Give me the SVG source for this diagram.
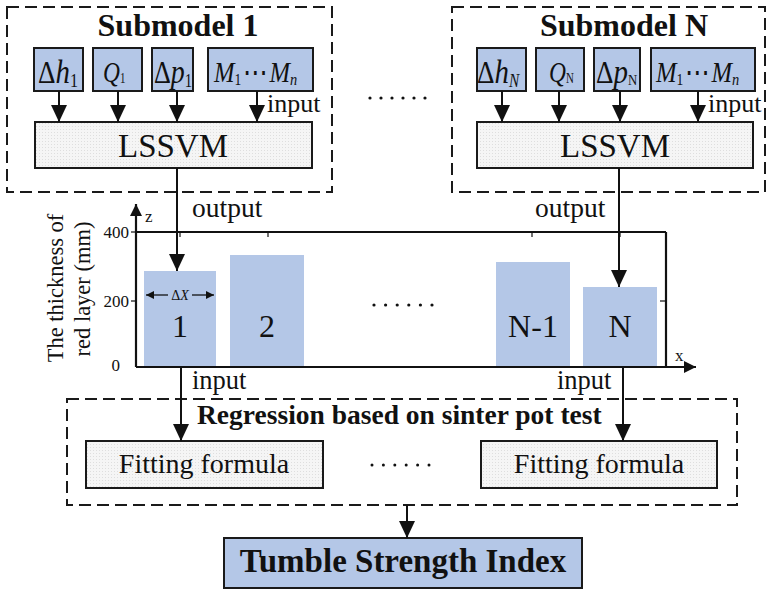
<svg xmlns="http://www.w3.org/2000/svg" width="770" height="589" viewBox="0 0 770 589">
<style>
text{font-family:"Liberation Serif","Times New Roman",serif;fill:#111}
.b{font-weight:bold}
.i{font-style:italic}
.dash{fill:none;stroke:#1a1a1a;stroke-width:2;stroke-dasharray:12 6}
.blue{fill:#b4c7e7;stroke:#1a1a1a;stroke-width:2}
.gray{fill:url(#dots);stroke:#1a1a1a;stroke-width:2}
.bar{fill:#b4c7e7}
.ln{stroke:#111;stroke-width:2;fill:none}
.ax{stroke:#111;stroke-width:2.2;fill:none}
.tk{stroke:#111;stroke-width:1.2}
.dot{fill:#111}
</style>
<defs>
<pattern id="dots" width="3" height="3" patternUnits="userSpaceOnUse"><rect width="3" height="3" fill="#f5f5f5"/><rect width="1" height="1" fill="#dedede"/></pattern>
<marker id="ah" viewBox="0 0 17 16" refX="17" refY="8" markerWidth="17" markerHeight="16" orient="auto" markerUnits="userSpaceOnUse"><path d="M0,0 L17,8 L0,16 Z" fill="#111"/></marker>
<marker id="axh" viewBox="0 0 12 12" refX="12" refY="6" markerWidth="12" markerHeight="12" orient="auto" markerUnits="userSpaceOnUse"><path d="M0,0 L12,6 L0,12 Z" fill="#111"/></marker>
<marker id="sh" viewBox="0 0 8 8" refX="8" refY="4" markerWidth="8" markerHeight="8" orient="auto" markerUnits="userSpaceOnUse"><path d="M0,0 L8,4 L0,8 Z" fill="#111"/></marker>
</defs>

<g id="submodel1">
<rect class="dash" x="7" y="7" width="325" height="185"/>
<text class="b" x="178" y="36" font-size="32" text-anchor="middle">Submodel 1</text>
</g>
<g id="dh1"><rect class="blue" x="34" y="48" width="49" height="43"/>
<text transform="translate(38,83) scale(0.85,1)" font-size="32">Δ<tspan class="i" font-size="34">h</tspan><tspan font-size="19" dy="4">1</tspan></text></g>
<g id="q1"><rect class="blue" x="93" y="48" width="49" height="43"/>
<text transform="translate(103,82) scale(0.78,1)" font-size="30" class="i">Q<tspan font-size="14" font-style="normal" dy="1">1</tspan></text></g>
<g id="dp1"><rect class="blue" x="152" y="48" width="41" height="43"/>
<text transform="translate(154,83) scale(0.82,1)" font-size="32">Δ<tspan class="i" font-size="34">p</tspan><tspan font-size="18" dy="4">1</tspan></text></g>
<g id="m1"><rect class="blue" x="208" y="48" width="105" height="43"/>
<text transform="translate(214,82) scale(0.85,1)" font-size="29" class="i">M<tspan font-size="16" font-style="normal" dy="3">1</tspan><tspan font-style="normal" dy="-3" dx="2">⋯</tspan><tspan dx="2">M</tspan><tspan font-size="17" dy="3">n</tspan></text></g>
<g id="lssvm1"><rect class="gray" x="35" y="122" width="277" height="46"/>
<text x="173" y="157" font-size="33" text-anchor="middle">LSSVM</text></g>

<g id="top-ellipsis">
<circle class="dot" cx="370" cy="98" r="1.6"/><circle class="dot" cx="381" cy="98" r="1.6"/><circle class="dot" cx="392" cy="98" r="1.6"/><circle class="dot" cx="403" cy="98" r="1.6"/><circle class="dot" cx="414" cy="98" r="1.6"/><circle class="dot" cx="425" cy="98" r="1.6"/>
</g>

<g id="submodelN">
<rect class="dash" x="452" y="7" width="313" height="185"/>
<text class="b" x="624" y="36" font-size="32" text-anchor="middle">Submodel N</text>
</g>
<g id="dhN"><rect class="blue" x="477" y="48" width="49" height="43"/>
<text transform="translate(477,83) scale(0.85,1)" font-size="32">Δ<tspan class="i" font-size="34">h</tspan><tspan class="i" font-size="18" dy="4">N</tspan></text></g>
<g id="qN"><rect class="blue" x="536" y="48" width="48" height="43"/>
<text transform="translate(549,82) scale(0.78,1)" font-size="30" class="i">Q<tspan font-size="14" font-style="normal" dy="1">N</tspan></text></g>
<g id="dpN"><rect class="blue" x="594" y="48" width="46" height="43"/>
<text transform="translate(596,83) scale(0.85,1)" font-size="32">Δ<tspan class="i" font-size="34">p</tspan><tspan font-size="15" dy="2">N</tspan></text></g>
<g id="mN"><rect class="blue" x="651" y="48" width="104" height="43"/>
<text transform="translate(656,82) scale(0.85,1)" font-size="29" class="i">M<tspan font-size="16" font-style="normal" dy="3">1</tspan><tspan font-style="normal" dy="-3" dx="2">⋯</tspan><tspan dx="2">M</tspan><tspan font-size="17" dy="3">n</tspan></text></g>
<g id="lssvmN"><rect class="gray" x="477" y="122" width="276" height="46"/>
<text x="615" y="157" font-size="33" text-anchor="middle">LSSVM</text></g>

<g id="chart">
<line class="ax" x1="136" y1="367" x2="136" y2="204" marker-end="url(#axh)"/>
<line class="ax" x1="136" y1="367" x2="696" y2="367" marker-end="url(#axh)"/>
<line class="ax" x1="136" y1="232" x2="666" y2="232"/>
<line class="ax" x1="666" y1="232" x2="666" y2="367"/>
<line class="tk" x1="180" y1="232" x2="180" y2="237"/>
<line class="tk" x1="268" y1="232" x2="268" y2="237"/>
<line class="tk" x1="532" y1="232" x2="532" y2="237"/>
<line class="tk" x1="620" y1="232" x2="620" y2="237"/>
<line class="tk" x1="660" y1="301" x2="666" y2="301"/>
<line class="tk" x1="131" y1="232" x2="136" y2="232"/>
<line class="tk" x1="131" y1="301" x2="136" y2="301"/>
<text x="129" y="238" font-size="17" text-anchor="end">400</text>
<text x="129" y="307" font-size="17" text-anchor="end">200</text>
<text x="120" y="371" font-size="17" text-anchor="end">0</text>
<text x="145" y="222" font-size="17">z</text>
<text x="675" y="361" font-size="17">x</text>
<text transform="translate(63,288) rotate(-90)" font-size="22.5" text-anchor="middle">The thickness of</text>
<text transform="translate(90,289) rotate(-90)" font-size="22.5" text-anchor="middle">red layer (mm)</text>
</g>
<g id="bar1"><rect class="bar" x="144" y="271" width="72" height="95"/>
<text x="180" y="337" font-size="32" text-anchor="middle">1</text>
<line class="tk" x1="168" y1="295" x2="146" y2="295" marker-end="url(#sh)" style="stroke-width:1.3"/>
<line class="tk" x1="192" y1="295" x2="214" y2="295" marker-end="url(#sh)" style="stroke-width:1.3"/>
<text x="180" y="300" font-size="14" text-anchor="middle">Δ<tspan class="i">X</tspan></text></g>
<g id="bar2"><rect class="bar" x="230" y="255" width="74" height="111"/>
<text x="267" y="337" font-size="32" text-anchor="middle">2</text></g>
<g id="chart-ellipsis">
<circle class="dot" cx="374" cy="305" r="1.6"/><circle class="dot" cx="385.6" cy="305" r="1.6"/><circle class="dot" cx="397.2" cy="305" r="1.6"/><circle class="dot" cx="408.8" cy="305" r="1.6"/><circle class="dot" cx="420.4" cy="305" r="1.6"/><circle class="dot" cx="432" cy="305" r="1.6"/>
</g>
<g id="barN1"><rect class="bar" x="496" y="262" width="74" height="104"/>
<text x="533" y="337" font-size="32" text-anchor="middle">N-1</text></g>
<g id="barN"><rect class="bar" x="583" y="287" width="74" height="79"/>
<text x="620" y="337" font-size="32" text-anchor="middle">N</text></g>

<g id="regression">
<rect class="dash" x="67" y="399" width="670" height="106"/>
<text class="b" x="197" y="424" font-size="27.5">Regression based on sinter pot test</text>
</g>
<g id="fit1"><rect class="gray" x="86" y="441" width="237" height="47"/>
<text x="204" y="473" font-size="28" text-anchor="middle">Fitting formula</text></g>
<g id="reg-ellipsis">
<circle class="dot" cx="372" cy="465" r="1.5"/><circle class="dot" cx="383.4" cy="465" r="1.5"/><circle class="dot" cx="394.8" cy="465" r="1.5"/><circle class="dot" cx="406.2" cy="465" r="1.5"/><circle class="dot" cx="417.6" cy="465" r="1.5"/><circle class="dot" cx="429" cy="465" r="1.5"/>
</g>
<g id="fitN"><rect class="gray" x="481" y="441" width="236" height="47"/>
<text x="599" y="473" font-size="28" text-anchor="middle">Fitting formula</text></g>
<g id="tsi"><rect class="blue" x="224" y="538" width="358" height="50"/>
<text class="b" x="403" y="572" font-size="33" text-anchor="middle">Tumble Strength Index</text></g>

<g id="connectors">
<line class="ln" x1="59" y1="91" x2="59" y2="122" marker-end="url(#ah)"/>
<line class="ln" x1="118" y1="91" x2="118" y2="122" marker-end="url(#ah)"/>
<line class="ln" x1="177" y1="91" x2="177" y2="122" marker-end="url(#ah)"/>
<line class="ln" x1="257" y1="91" x2="257" y2="122" marker-end="url(#ah)"/>
<text x="267" y="112" font-size="26">input</text>
<line class="ln" x1="502" y1="91" x2="502" y2="122" marker-end="url(#ah)"/>
<line class="ln" x1="559" y1="91" x2="559" y2="122" marker-end="url(#ah)"/>
<line class="ln" x1="620" y1="91" x2="620" y2="122" marker-end="url(#ah)"/>
<line class="ln" x1="698" y1="91" x2="698" y2="122" marker-end="url(#ah)"/>
<text x="708" y="112" font-size="26">input</text>
<line class="ln" x1="177" y1="168" x2="177" y2="271" marker-end="url(#ah)"/>
<text x="192" y="217" font-size="27.5">output</text>
<line class="ln" x1="619" y1="168" x2="619" y2="287" marker-end="url(#ah)"/>
<text x="535" y="217" font-size="27.5">output</text>
<line class="ln" x1="181" y1="367" x2="181" y2="441" marker-end="url(#ah)"/>
<text x="192" y="389" font-size="26.5">input</text>
<line class="ln" x1="623" y1="367" x2="623" y2="441" marker-end="url(#ah)"/>
<text x="557" y="389" font-size="26.5">input</text>
<line class="ln" x1="407" y1="505" x2="407" y2="538" marker-end="url(#ah)"/>
</g>
</svg>
